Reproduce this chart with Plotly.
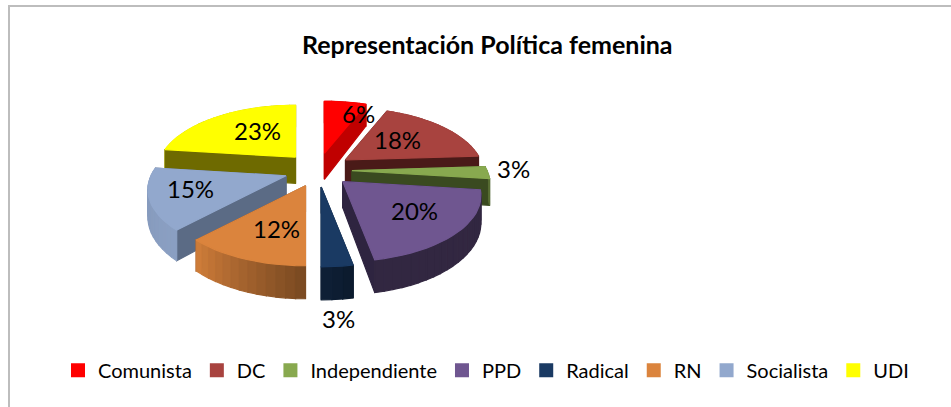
import numpy as np
import plotly.graph_objects as go

categories = ["Comunista", "DC", "Independiente", "PPD", "Radical", "RN", "Socialista", "UDI"]
values = [6, 18, 3, 20, 3, 12, 15, 23]
top_colors = ["#FF0000", "#A8433F", "#88A94F", "#6F5690", "#1A3A63", "#DB843D", "#92A8CD", "#FFFF00"]
side_colors = ["#C00000", "#4A1A18", "#3A4A20", "#2E2440", "#0C1F38", "#8A5228", "#5B6B85", "#6E6A00"]
title_text = "Representación Política femenina"

# Scene geometry (pixel-like axis units; the projection turns slice angles into a tilted 3D pie)
CX, CY = 318.0, 170.0
RX, RY, K = 135.0, 63.0, 0.212
EXPLODE_X, EXPLODE_Y = 34.0, 17.0
DEPTH = 26.0
# Data-label anchors, as a nudge from each slice's own label point
LABEL_R = 0.62
LABEL_NUDGE = [(20, -6), (-11, 1), (78, -3), (5, -1), (8, 87), (6, 1), (-13, -1), (12, 0)]


def project(theta, r=1.0):
    u, v = r * np.sin(theta), r * np.cos(theta)
    w = 1.0 / (1.0 + K * v)
    return RX * u * w, -RY * v * w, w


def shade(hex_color, f):
    rgb = [int(hex_color[i:i + 2], 16) for i in (1, 3, 5)]
    return "rgb(%d,%d,%d)" % tuple(min(255, max(0, round(c * f))) for c in rgb)


def poly(xs, ys, color):
    xs, ys = list(xs), list(ys)
    return go.Scatter(x=xs + xs[:1], y=ys + ys[:1], mode="lines", fill="toself", fillcolor=color,
                      line=dict(color=color, width=1.2), hoverinfo="skip", showlegend=False)


def wall_factor(deg):
    return np.interp(deg, [0, 90, 100, 169, 180, 223, 277, 360],
                     [0.8, 0.85, 0.45, 0.45, 0.55, 0.95, 0.9, 0.8])


fig = go.Figure()
edges = np.cumsum([0] + values) / sum(values) * 2 * np.pi
slices = []
for i, name in enumerate(categories):
    a, b = edges[i], edges[i + 1]
    mid = (a + b) / 2
    slices.append((np.cos(mid), i, a, b, mid))

annotations = []
# back-to-front painter's order
for _, i, a, b, mid in sorted(slices, key=lambda s: -s[0]):
    ax = CX + EXPLODE_X * np.sin(mid)
    ay = CY - EXPLODE_Y * np.cos(mid)
    th = np.linspace(a, b, max(4, int(np.degrees(b - a) / 3)))
    dx, dy, w = project(th)
    faces = []
    for t_end in (a, b):
        ex, ey, ew = project(t_end)
        faces.append((np.cos(t_end) * 0.5,
                      [ax, ax + ex, ax + ex, ax],
                      [ay, ay + ey, ay + ey + DEPTH * ew, ay + DEPTH],
                      side_colors[i]))
    for j in range(len(th) - 1):
        m = (th[j] + th[j + 1]) / 2
        f = float(wall_factor(np.degrees(m)))
        faces.append((np.cos(m),
                      [ax + dx[j], ax + dx[j + 1], ax + dx[j + 1], ax + dx[j]],
                      [ay + dy[j], ay + dy[j + 1], ay + dy[j + 1] + DEPTH * w[j + 1], ay + dy[j] + DEPTH * w[j]],
                      shade(top_colors[i], f)))
    for _, xs, ys, col in sorted(faces, key=lambda q: -q[0]):
        fig.add_trace(poly(xs, ys, col))
    fig.add_trace(poly(np.r_[ax, ax + dx], np.r_[ay, ay + dy], top_colors[i]))
    lx, ly, _w = project(mid, LABEL_R)
    annotations.append(dict(x=ax + lx + LABEL_NUDGE[i][0], y=ay + ly + LABEL_NUDGE[i][1],
                            text=f"{values[i]}%", showarrow=False, xref="x", yref="y",
                            font=dict(family="Lato", size=24, color="#000000")))

# legend entries
for name, col in zip(categories, top_colors):
    fig.add_trace(go.Scatter(x=[None], y=[None], mode="markers", name=name,
                             marker=dict(symbol="square", size=14, color=col)))

fig.update_layout(
    width=951, height=407, margin=dict(l=0, r=0, t=0, b=0),
    paper_bgcolor="#FFFFFF", plot_bgcolor="#FFFFFF",
    xaxis=dict(range=[0, 951], visible=False, fixedrange=True),
    yaxis=dict(range=[407, 0], visible=False, fixedrange=True),
    annotations=annotations + [dict(x=487.5, y=44, xref="x", yref="y", text=f"<b>{title_text}</b>",
                                    showarrow=False, font=dict(family="Lato", size=25, color="#000000"))],
    legend=dict(orientation="h", x=486 / 951, xanchor="center", y=0.09, yanchor="middle",
                font=dict(family="Lato", size=20, color="#000000"), itemwidth=30,
                bgcolor="rgba(0,0,0,0)"),
    shapes=[dict(type="line", xref="x", yref="y", x0=8, x1=951, y0=6, y1=6, line=dict(color="#BDBDBD", width=2)),
            dict(type="line", xref="x", yref="y", x0=9, x1=9, y0=5, y1=407, line=dict(color="#BDBDBD", width=2))],
)
fig.write_html("out.html", config=dict(displayModeBar=False),
               post_script="document.body.style.margin='0';document.body.style.overflow='hidden';")
